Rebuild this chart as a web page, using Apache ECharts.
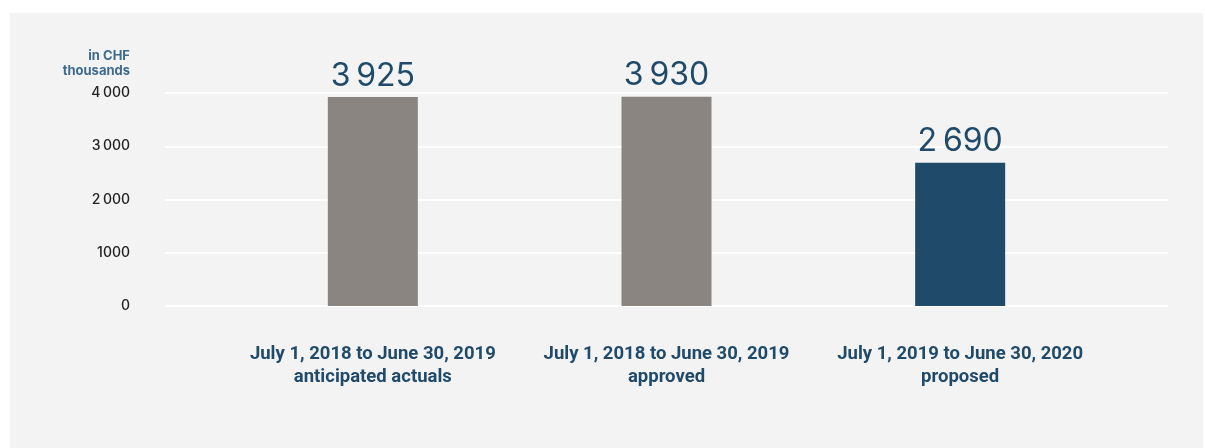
<!DOCTYPE html>
<html>
<head>
<meta charset="utf-8">
<script src="https://cdn.jsdelivr.net/npm/echarts@6/dist/echarts.min.js"></script>
<style>
html,body{margin:0;padding:0;background:#ffffff;}
#bg{position:absolute;left:10px;top:13px;width:1193px;height:435px;background:#f3f3f3;}
#chart{position:absolute;left:0;top:0;width:1205px;height:448px;}
</style>
</head>
<body>
<div id="bg"></div>
<div id="chart"></div>
<script>
const categories = [
  "July 1, 2018 to June 30, 2019\nanticipated actuals",
  "July 1, 2018 to June 30, 2019\napproved",
  "July 1, 2019 to June 30, 2020\nproposed"
];
const values = [3925, 3930, 2690];
const valueLabels = ["3\u2009925", "3\u2009930", "2\u2009690"];
const barColors = ["#8a8581", "#8a8581", "#1f4a6a"];
const tickLabels = {0: "0", 1000: "1000", 2000: "2\u2009000", 3000: "3\u2009000", 4000: "4\u2009000"};
const yMin = 0, yMax = 4000, yStep = 1000;
const yTitle = "in CHF\nthousands";

const chart = echarts.init(document.getElementById('chart'), null, {renderer: 'canvas'});
chart.setOption({
  backgroundColor: 'transparent',
  animation: false,
  grid: [
    {left: 165, right: 37, top: 93, bottom: 142},
    {left: 226, right: 98, top: 93, bottom: 142}
  ],
  xAxis: [
    {type: 'category', gridIndex: 0, data: categories, show: false},
    {type: 'category', gridIndex: 1, data: categories,
     axisLine: {show: false}, axisTick: {show: false},
     axisLabel: {color: '#1f4a6a', fontFamily: 'Roboto', fontWeight: 'bold', fontSize: 18.5,
                 lineHeight: 23, margin: 37, interval: 0}}
  ],
  yAxis: [
    {type: 'value', gridIndex: 0, min: yMin, max: yMax, interval: yStep,
     name: yTitle, nameLocation: 'end', nameGap: 14,
     nameTextStyle: {color: '#3d6a8f', fontFamily: 'Inter', fontWeight: 'bold', fontSize: 13,
                     align: 'right', lineHeight: 15, padding: [0, 35, 0, 0]},
     axisLine: {show: false}, axisTick: {show: false},
     axisLabel: {color: '#222222', fontFamily: 'Inter', fontWeight: 500, fontSize: 14, margin: 35,
                 formatter: v => tickLabels[v] !== undefined ? tickLabels[v] : String(v)},
     splitLine: {lineStyle: {color: '#ffffff', width: 2}}},
    {type: 'value', gridIndex: 1, min: yMin, max: yMax, interval: yStep, show: false,
     splitLine: {show: false}}
  ],
  series: [{
    type: 'bar',
    xAxisIndex: 1, yAxisIndex: 1,
    barWidth: 90,
    data: values.map((v, i) => ({value: v, itemStyle: {color: barColors[i]}})),
    label: {
      show: true, position: 'top', distance: 5,
      color: '#1f4a6a', fontFamily: 'Inter', fontSize: 32,
      formatter: p => valueLabels[p.dataIndex]
    }
  }]
});
</script>
</body>
</html>
